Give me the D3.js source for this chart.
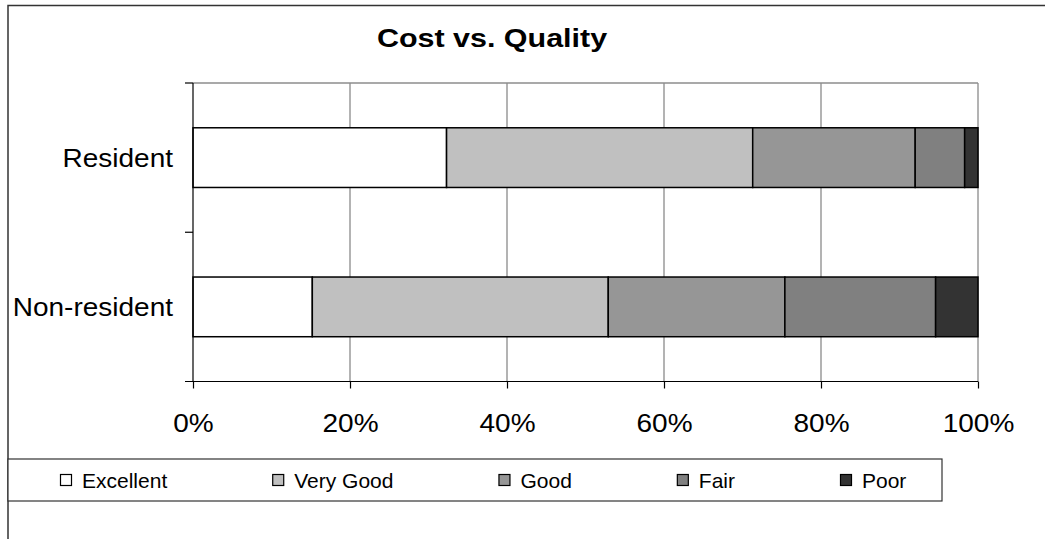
<!DOCTYPE html>
<html>
<head>
<meta charset="utf-8">
<script src="https://cdn.jsdelivr.net/npm/d3@7"></script>
<style>
  html, body { margin: 0; padding: 0; background: #fff; }
  svg { display: block; font-family: "Liberation Sans", Arial, sans-serif; }
</style>
</head>
<body>
<svg id="chart" width="1045" height="539"></svg>
<script>
// ---- data ----
const categories = ["Resident", "Non-resident"];
const seriesNames = ["Excellent", "Very Good", "Good", "Fair", "Poor"];
const residentValues = [32.3, 39.0, 20.7, 6.3, 1.7];
const nonResidentValues = [15.2, 37.7, 22.5, 19.2, 5.4];
const xTickValues = [0, 20, 40, 60, 80, 100];
const xTickLabels = ["0%", "20%", "40%", "60%", "80%", "100%"];
const titleText = "Cost vs. Quality";

// ---- styles ----
const fills = ["#ffffff", "#c0c0c0", "#969696", "#808080", "#333333"];

(function () {
const svg = d3.select("#chart");

// outer frame
svg.append("path")
  .attr("d", "M8,560 L8,5.5 L1060,5.5")
  .attr("fill", "none").attr("stroke", "#333").attr("stroke-width", 1.5);

const pL = 193, pR = 978, pT = 83, pB = 381.5;

const x = d3.scaleLinear().domain([0, 100]).range([pL, pR]);
const y = d3.scaleBand().domain(categories).range([pT, pB])
  .paddingInner(0.6).paddingOuter(0.3);

// table
const rows = categories.map((c, i) => {
  const vals = i === 0 ? residentValues : nonResidentValues;
  const r = { category: c };
  seriesNames.forEach((s, j) => r[s] = vals[j]);
  return r;
});
const stacked = d3.stack().keys(seriesNames)(rows);

// gridlines
svg.append("g").selectAll("line").data(xTickValues.slice(1)).join("line")
  .attr("x1", d => x(d)).attr("x2", d => x(d))
  .attr("y1", pT).attr("y2", pB)
  .attr("stroke", "#808080").attr("stroke-width", 1.2);
// plot top border
svg.append("line").attr("x1", pL).attr("x2", pR).attr("y1", pT).attr("y2", pT)
  .attr("stroke", "#8c8c8c").attr("stroke-width", 1.5);

// bars
const gBars = svg.append("g");
stacked.forEach((layer, i) => {
  gBars.append("g").selectAll("rect").data(layer).join("rect")
    .attr("x", d => x(d[0]))
    .attr("width", d => x(d[1]) - x(d[0]))
    .attr("y", d => y(d.data.category))
    .attr("height", y.bandwidth())
    .attr("fill", fills[i])
    .attr("stroke", "#000").attr("stroke-width", 1.5);
});

// x axis
const xAxis = d3.axisBottom(x).tickValues(xTickValues)
  .tickFormat((d, i) => xTickLabels[i]).tickSize(7).tickPadding(0);
const gx = svg.append("g").attr("transform", `translate(0,${pB})`).call(xAxis);
gx.select(".domain").remove();
gx.append("line").attr("x1", pL - 8).attr("x2", pR).attr("y1", 0).attr("y2", 0)
  .attr("stroke", "#000").attr("stroke-width", 1.2);
gx.selectAll(".tick line").attr("stroke", "#000").attr("stroke-width", 1.2);
gx.selectAll(".tick text").remove();
gx.selectAll(".tick").append("g")
  .attr("transform", "translate(0,50) scale(1.12,1)")
  .append("text")
  .attr("text-anchor", "middle")
  .attr("fill", "#000").attr("font-size", 25)
  .text((d, i) => xTickLabels[i]);

// y axis
svg.append("line").attr("x1", pL).attr("x2", pL).attr("y1", pT).attr("y2", pB)
  .attr("stroke", "#000").attr("stroke-width", 1.2);
const yTickPos = [pT, (pT + pB) / 2];
svg.append("g").selectAll("line").data(yTickPos).join("line")
  .attr("x1", pL - 8).attr("x2", pL).attr("y1", d => d).attr("y2", d => d)
  .attr("stroke", "#000").attr("stroke-width", 1.2);

svg.append("g").selectAll("g").data(categories).join("g")
  .attr("transform", d => `translate(173,${y(d) + y.bandwidth() / 2 + 9}) scale(1.12,1)`)
  .append("text").attr("text-anchor", "end").attr("font-size", 25).attr("fill", "#000")
  .text(d => d);

// title
svg.append("g").attr("transform", "translate(492,47) scale(1.15,1)")
  .append("text").attr("text-anchor", "middle").attr("font-size", 26.5)
  .attr("font-weight", "bold").attr("fill", "#000").text(titleText);

// legend
const lg = svg.append("g");
lg.append("rect").attr("x", 8).attr("y", 459).attr("width", 934).attr("height", 42)
  .attr("fill", "#fff").attr("stroke", "#333").attr("stroke-width", 1.2);
let lx = 60;
seriesNames.forEach((s, i) => {
  const it = lg.append("g").attr("transform", `translate(${lx},480)`);
  it.append("rect").attr("x", 0.5).attr("y", -5.5).attr("width", 11).attr("height", 11)
    .attr("fill", fills[i]).attr("stroke", "#000").attr("stroke-width", 1.2);
  const t = it.append("text").attr("x", 22).attr("y", 7.5).attr("font-size", 21)
    .attr("fill", "#000").text(s);
  const w = t.node().getComputedTextLength();
  lx += 22 + w + 105;
});
})();
</script>
</body>
</html>
